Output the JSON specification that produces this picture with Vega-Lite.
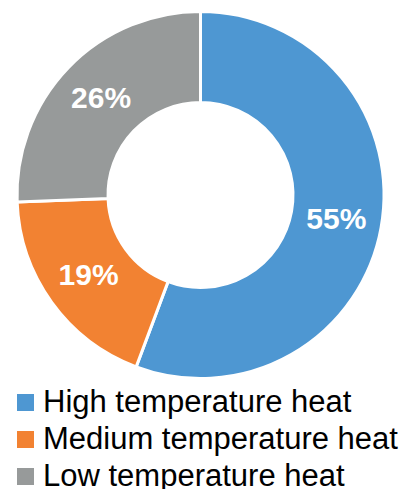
{
  "$schema": "https://vega.github.io/schema/vega-lite/v6.json",
  "width": 401,
  "height": 390,
  "autosize": "none",
  "padding": {"left": 0, "top": 0, "right": 0, "bottom": 99},
  "background": "white",
  "config": {"view": {"stroke": null}},
  "data": {
    "values": [
      {"source": "High temperature heat", "share": 55.7, "label": "55%", "idx": 1},
      {"source": "Medium temperature heat", "share": 18.7, "label": "19%", "idx": 2},
      {"source": "Low temperature heat", "share": 25.6, "label": "26%", "idx": 3}
    ]
  },
  "encoding": {
    "theta": {"field": "share", "type": "quantitative", "stack": true},
    "order": {"field": "idx", "type": "quantitative"}
  },
  "layer": [
    {
      "mark": {"type": "arc", "outerRadius": 183.5, "innerRadius": 92.5, "stroke": "white", "strokeWidth": 3},
      "encoding": {
        "color": {
          "field": "source",
          "type": "nominal",
          "scale": {
            "domain": ["High temperature heat", "Medium temperature heat", "Low temperature heat"],
            "range": ["#4E97D2", "#F28232", "#979A9A"]
          },
          "legend": {
            "title": null,
            "orient": "none",
            "legendX": 10,
            "legendY": 387,
            "padding": 0,
            "symbolType": "square",
            "symbolSize": 289,
            "symbolStrokeWidth": 0,
            "labelFontSize": 31,
            "labelFont": "Liberation Sans",
            "labelColor": "black",
            "labelOffset": 2,
            "rowPadding": 5,
            "labelLimit": 0
          }
        }
      }
    },
    {
      "mark": {"type": "text", "radius": 138, "fontSize": 30, "fontWeight": "bold", "font": "Liberation Sans", "fill": "white"},
      "encoding": {"text": {"field": "label"}}
    }
  ]
}
